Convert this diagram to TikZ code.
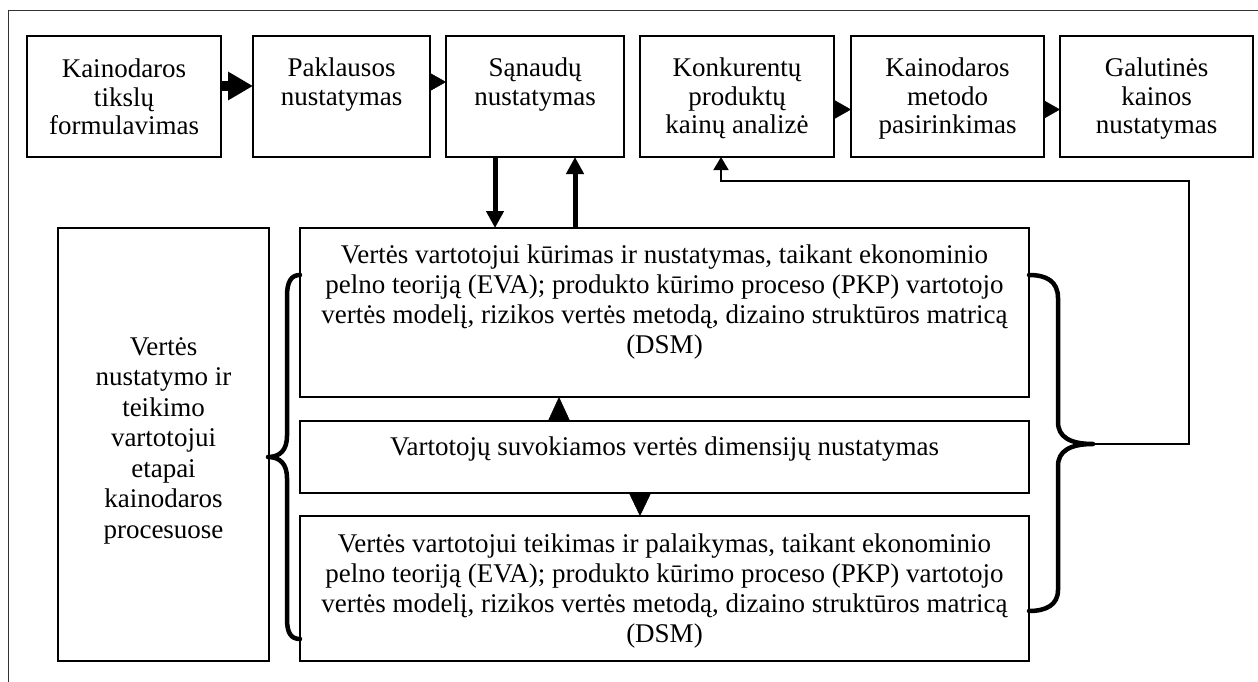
\documentclass[tikz,border=0pt]{standalone}
\usepackage{fontspec}
\setmainfont{Liberation Serif}
\usetikzlibrary{arrows.meta}
\newcommand{\bt}[4]{\parbox[c][#1][t]{#2}{\centering\rule{0pt}{#3}#4\par}}
\begin{document}
\begin{tikzpicture}[x=1pt,y=-1pt,
  box/.style={draw, line width=1.5pt, inner sep=0pt, outer sep=0pt},
  toprow/.style={font=\fontsize{27}{28.5}\selectfont},
  lowrow/.style={font=\fontsize{27}{30}\selectfont},
  bigarrow/.style={line width=10pt, -{Triangle[length=25pt,width=27pt]}},
  tri/.style={line width=0.4pt, -{Triangle[length=16pt,width=18pt]}},
  vthick/.style={line width=5pt, -{Triangle[length=17pt,width=17pt]}},
  midtri/.style={line width=0.4pt, -{Triangle[length=23pt,width=22pt]}},
  ret/.style={line width=1.6pt, -{Triangle[length=13pt,width=15pt]}},
  brace/.style={line width=4.5pt, line cap=round, line join=round},
  framec/.style={draw=black!80, line width=1pt}]
\useasboundingbox (0,0) rectangle (1258,682);
\fill[white] (0,0) rectangle (1258,682);
\draw[framec] (8,682) -- (8,11) -- (1258,11);
% top row
\node[box,toprow] (b1) at (124,96.5)  {\bt{121pt}{194pt}{42pt}{Kainodaros\\tikslų\\formulavimas}};
\node[box,toprow] (b2) at (341.5,96.5){\bt{121pt}{177pt}{41pt}{Paklausos\\nustatymas}};
\node[box,toprow] (b3) at (535,96.5)  {\bt{121pt}{178pt}{41pt}{Sąnaudų\\nustatymas}};
\node[box,toprow] (b4) at (737,96.5)  {\bt{121pt}{194pt}{41pt}{Konkurentų\\produktų\\kainų analizė}};
\node[box,toprow] (b5) at (947.5,96.5){\bt{121pt}{193pt}{41pt}{Kainodaros\\metodo\\pasirinkimas}};
\node[box,toprow] (b6) at (1156.5,96.5){\bt{121pt}{193pt}{41pt}{Galutinės\\kainos\\nustatymas}};
% lower part
\node[box,font=\fontsize{27}{30.5}\selectfont] (L) at (163.5,444.5) {\bt{433pt}{211pt}{127pt}{Vertės\\nustatymo ir\\teikimo\\vartotojui\\etapai\\kainodaros\\procesuose}};
\node[box,lowrow] (A) at (664.5,312.5) {\bt{169pt}{729pt}{35pt}{Vertės vartotojui kūrimas ir nustatymas, taikant ekonominio\\pelno teoriją (EVA); produkto kūrimo proceso (PKP) vartotojo\\vertės modelį, rizikos vertės metodą, dizaino struktūros matricą\\(DSM)}};
\node[box,lowrow] (B) at (664.5,457) {\bt{72pt}{729pt}{34pt}{Vartotojų suvokiamos vertės dimensijų nustatymas}};
\node[box,lowrow] (C) at (664.5,588.5) {\bt{145pt}{729pt}{36pt}{Vertės vartotojui teikimas ir palaikymas, taikant ekonominio\\pelno teoriją (EVA); produkto kūrimo proceso (PKP) vartotojo\\vertės modelį, rizikos vertės metodą, dizaino struktūros matricą\\(DSM)}};
% top-row arrows
\draw[bigarrow] ([yshift=10.5pt]b1.east) -- ([yshift=10.5pt]b2.west);
\draw[tri] ([yshift=14.5pt]b2.east) -- ([yshift=14.5pt]b3.west);
\draw[tri] ([yshift=-13pt]b4.east) -- ([yshift=-13pt]b5.west);
\draw[tri] ([yshift=-13pt]b5.east) -- ([yshift=-13pt]b6.west);
% between b3 and A
\draw[vthick] ([xshift=-40pt]b3.south) -- ([xshift=-40pt]b3.south |- A.north);
\draw[vthick] ([xshift=40pt]b3.south |- A.north) -- ([xshift=40pt]b3.south);
% middle arrows
\draw[midtri,-{Triangle[length=24pt,width=22pt]}] ([xshift=-105.5pt]B.north) -- ([xshift=-105.5pt]A.south);
\draw[midtri] ([xshift=-24.5pt]B.south) -- ([xshift=-24.5pt]C.north);
% braces
\coordinate (lt) at (268,457);
\coordinate (rt) at (1093,444);
\draw[brace] (A.west |- 0,275) .. controls (291,275) and (287,282) .. (287,296)
  -- (287,436) .. controls (287,450) and (280,457) .. (lt)
  .. controls (280,457) and (287,464) .. (287,478)
  -- (287,619) .. controls (287,633) and (291,639) .. (C.west |- 0,639);
\draw[brace] (A.east |- 0,275) .. controls (1046,275) and (1058,281) .. (1058,298)
  -- (1058,422) .. controls (1058,437) and (1070,444) .. (rt)
  .. controls (1070,444) and (1058,451) .. (1058,466)
  -- (1058,590) .. controls (1058,605) and (1046,611) .. (C.east |- 0,611);
% return connector
\coordinate (rc) at (1189,181);
\draw[ret] (rt) -| (rc) -| ([xshift=-16pt]b4.south);
\end{tikzpicture}
\end{document}
